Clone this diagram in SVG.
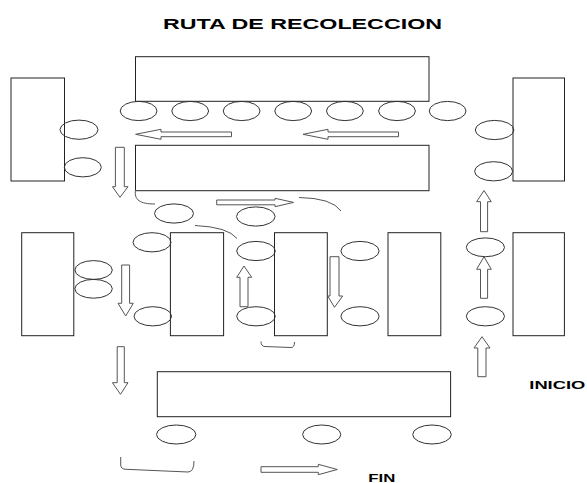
<svg xmlns="http://www.w3.org/2000/svg" width="587" height="483" viewBox="0 0 587 483">
<style>
.b{fill:#fff;stroke:#222;stroke-width:1}
.c{fill:none;stroke:#333;stroke-width:1}
.a{fill:#fff;stroke:#555;stroke-width:1}
.cv{fill:none;stroke:#555;stroke-width:1}
.t{font-family:"Liberation Sans",Arial,sans-serif;font-weight:bold;fill:#000}
</style>
<rect width="587" height="483" fill="#fff"/>
<text class="t" x="163" y="28.5" font-size="15" textLength="279" lengthAdjust="spacingAndGlyphs">RUTA DE RECOLECCION</text>
<g id="blocks">
<rect id="block-top" class="b" x="135.5" y="56.7" width="293.5" height="44.6"/>
<rect id="block-left" class="b" x="11" y="78" width="53.5" height="103"/>
<rect id="block-right" class="b" x="513" y="78" width="51.5" height="103"/>
<rect id="block-mid" class="b" x="135.5" y="145.3" width="293.5" height="45.4"/>
<rect id="block-r1" class="b" x="21.7" y="232.7" width="52.1" height="103"/>
<rect id="block-r2" class="b" x="170.4" y="232.7" width="53.2" height="103"/>
<rect id="block-r3" class="b" x="274.5" y="232.7" width="52.8" height="103"/>
<rect id="block-r4" class="b" x="388" y="232.7" width="52.8" height="103"/>
<rect id="block-r5" class="b" x="513" y="232.7" width="51.4" height="103"/>
<rect id="block-bottom" class="b" x="157.3" y="371.7" width="293.3" height="45"/>
</g>
<g id="bins">
<ellipse class="c" cx="138.6" cy="111" rx="18.4" ry="9.6"/>
<ellipse class="c" cx="190.2" cy="111" rx="18.4" ry="9.6"/>
<ellipse class="c" cx="241.6" cy="111" rx="18.4" ry="9.6"/>
<ellipse class="c" cx="293.2" cy="111" rx="18.4" ry="9.6"/>
<ellipse class="c" cx="344.9" cy="111" rx="18.4" ry="9.6"/>
<ellipse class="c" cx="397" cy="111" rx="18.4" ry="9.6"/>
<ellipse class="c" cx="447.6" cy="111" rx="18.4" ry="9.6"/>
<ellipse class="c" cx="79" cy="129.7" rx="19" ry="9.6"/>
<ellipse class="c" cx="82.8" cy="167.3" rx="18.5" ry="9.6"/>
<ellipse class="c" cx="494.6" cy="130" rx="19.3" ry="9.6"/>
<ellipse class="c" cx="493.6" cy="171.3" rx="19" ry="9.6"/>
<ellipse class="c" cx="174" cy="213.5" rx="19.5" ry="9.6"/>
<ellipse class="c" cx="255.8" cy="216.5" rx="19.3" ry="9.6"/>
<ellipse class="c" cx="152" cy="242.3" rx="19" ry="9.6"/>
<ellipse class="c" cx="93.6" cy="270" rx="18.7" ry="9.4"/>
<ellipse class="c" cx="93.6" cy="288.8" rx="18.7" ry="9.4"/>
<ellipse class="c" cx="152.8" cy="316.3" rx="18.8" ry="9.6"/>
<ellipse class="c" cx="256" cy="251" rx="19.3" ry="9.6"/>
<ellipse class="c" cx="256" cy="316.3" rx="19.3" ry="9.6"/>
<ellipse class="c" cx="360" cy="251" rx="19.1" ry="9.6"/>
<ellipse class="c" cx="360" cy="316.3" rx="19.1" ry="9.6"/>
<ellipse class="c" cx="485.4" cy="247.3" rx="19.1" ry="9.4"/>
<ellipse class="c" cx="485.4" cy="316.3" rx="19.1" ry="9.6"/>
<ellipse class="c" cx="176.2" cy="434.5" rx="19.7" ry="9.5"/>
<ellipse class="c" cx="321.7" cy="434.5" rx="19.1" ry="9.5"/>
<ellipse class="c" cx="432" cy="434.5" rx="19.3" ry="9.5"/>
</g>
<g id="connectors">
<polygon class="a" points="135.6,134.3 161,129.3 161,132 231.5,132 231.5,136.7 161,136.7 161,139.3"/>
<polygon class="a" points="303,134.3 328,129.3 328,132 398.5,132 398.5,136.7 328,136.7 328,139.3"/>
<polygon class="a" points="115.4,147.3 124.3,147.3 124.3,186.7 128,186.7 120,197.3 112.4,186.7 115.4,186.7"/>
<polygon class="a" points="216.7,200 275,200 275,198.3 293.5,202.4 275,206.7 275,204.8 216.7,204.8"/>
<polygon class="a" points="480.5,231.7 487.6,231.7 487.6,201.7 491.3,201.7 484,190.5 476.6,201.7 480.5,201.7"/>
<polygon class="a" points="480.5,298.3 487.6,298.3 487.6,269.3 491.3,269.3 484,256.7 476.6,269.3 480.5,269.3"/>
<polygon class="a" points="477.8,376.7 486,376.7 486,348 490,348 482,336.7 474,348 477.8,348"/>
<polygon class="a" points="121.7,265 129.6,265 129.6,303.3 133.3,303.3 125.7,316 118,303.3 121.7,303.3"/>
<polygon class="a" points="240,306.7 248,306.7 248,277.3 251.7,277.3 244,266 236.7,277.3 240,277.3"/>
<polygon class="a" points="330,256.7 339,256.7 339,296 342.7,296 334.5,307.3 327.7,296 330,296"/>
<polygon class="a" points="117.2,346.7 124.3,346.7 124.3,382.7 128,382.7 120.5,394.3 112.4,382.7 117.2,382.7"/>
<polygon class="a" points="261,466.7 318.3,466.7 318.3,464.3 337.3,469.5 318.3,474.7 318.3,472.3 261,472.3"/>
<path class="cv" d="M135.5,190 C134,200 140,204 155,204"/>
<path class="cv" d="M299,197.5 Q332,198 341,211"/>
<path class="cv" d="M195,225.5 Q228,227 237,238.5"/>
<path class="cv" d="M261,341.5 Q261,346.5 265,346.5 L291,347.5 Q294.5,347.5 294.5,342"/>
<path class="cv" d="M120.7,457 L120.7,465 Q121,469.3 126,469.3 L188,472 Q194,472 194,461"/>
</g>
<text class="t" x="529.3" y="389.3" font-size="11" textLength="56" lengthAdjust="spacingAndGlyphs">INICIO</text>
<text class="t" x="368.3" y="481.7" font-size="11" textLength="27" lengthAdjust="spacingAndGlyphs">FIN</text>
</svg>
